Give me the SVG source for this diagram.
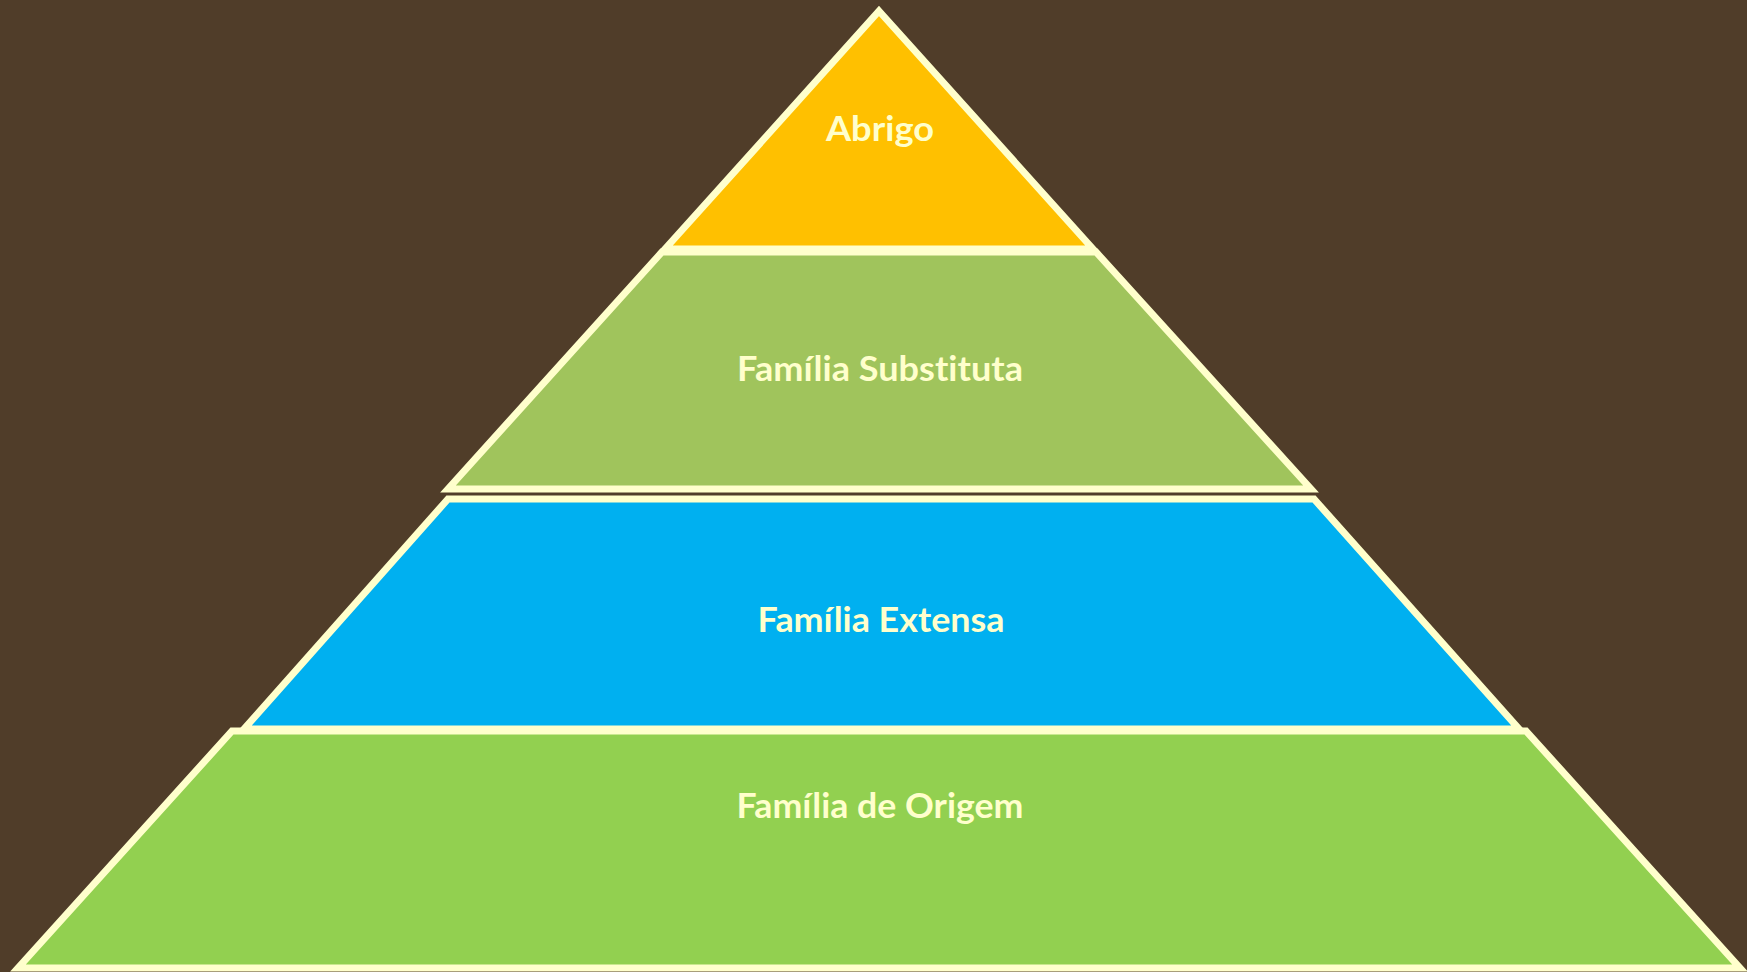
<svg xmlns="http://www.w3.org/2000/svg" width="1747" height="972" viewBox="0 0 1747 972">
<style>
.band{stroke:#FFFFCC;stroke-width:7;stroke-linejoin:miter}
.lbl{font-family:Lato,"Open Sans","Liberation Sans",sans-serif;font-weight:bold;font-size:34px;fill:#FFFFCC;text-anchor:middle;font-variant-ligatures:none;font-feature-settings:"liga" 0}
</style>
<rect width="1747" height="972" fill="#503D29"/>
<g id="origem">
<polygon class="band" fill="#92D050" points="232,731 1526,731 1740,968 18,968"/>
<text class="lbl" x="880" y="818" textLength="287" lengthAdjust="spacingAndGlyphs">Família de Origem</text>
</g>
<g id="extensa">
<polygon class="band" fill="#00B0F0" points="448,499 1314,499 1519,729 244,729"/>
<text class="lbl" x="881" y="632" textLength="247" lengthAdjust="spacingAndGlyphs">Família Extensa</text>
</g>
<g id="substituta">
<polygon class="band" fill="#A0C45C" points="662,252 1096,252 1311,489 448,489"/>
<text class="lbl" x="880" y="381" textLength="286" lengthAdjust="spacingAndGlyphs">Família Substituta</text>
</g>
<g id="abrigo">
<polygon class="band" fill="#FFC000" points="879,11 1093,249 665,249"/>
<text class="lbl" x="880" y="141" textLength="108" lengthAdjust="spacingAndGlyphs">Abrigo</text>
</g>
<g id="connectors"/>
</svg>
